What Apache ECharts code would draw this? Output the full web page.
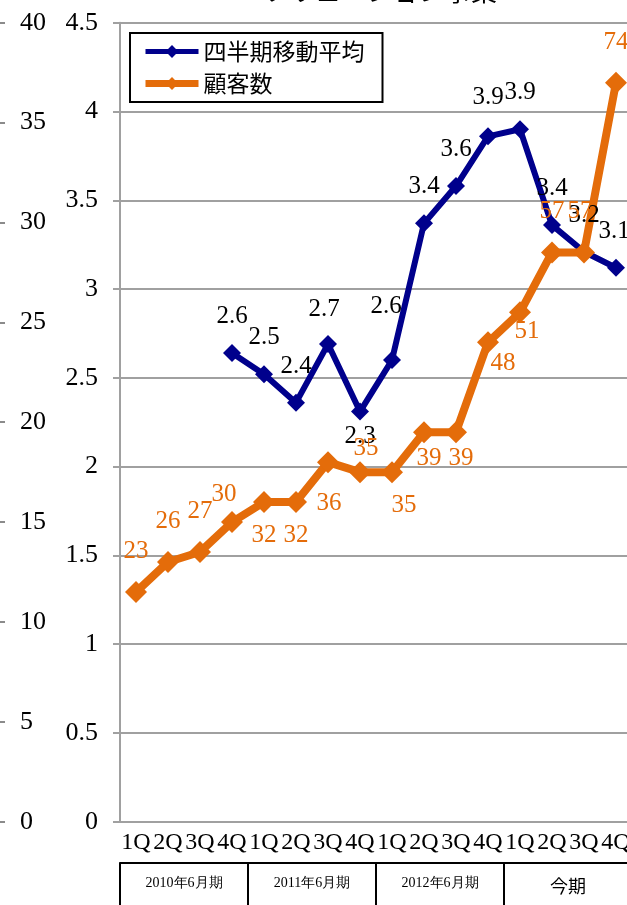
<!DOCTYPE html>
<html>
<head>
<meta charset="utf-8">
<script src="https://cdn.jsdelivr.net/npm/echarts@6/dist/echarts.min.js"></script>
<style>
  html, body { margin: 0; padding: 0; overflow: hidden; background: #fff; }
  #chart { width: 640px; height: 905px; }
</style>
</head>
<body>
<div id="chart"></div>
<script>
// Quarter categories and fiscal-period groups
const quarters = ['1Q','2Q','3Q','4Q','1Q','2Q','3Q','4Q','1Q','2Q','3Q','4Q','1Q','2Q','3Q','4Q'];
const periods = ['2010年6月期', '2011年6月期', '2012年6月期', '今期'];

// 四半期移動平均 (left value axis 0–4.5)
const movingAvg = [null, null, null, 2.64, 2.52, 2.36, 2.69, 2.31, 2.60, 3.37, 3.58, 3.86, 3.90, 3.36, 3.21, 3.12];
// 顧客数 (hidden axis 0–80)
const customers = [23, 26, 27, 30, 32, 32, 36, 35, 35, 39, 39, 48, 51, 57, 57, 74];

const seriesNames = ['四半期移動平均', '顧客数'];
const titleText = 'ソリューション事業';

// Label placement per point: [position, dx, dy]
const avgLabelPlace = [
  null, null, null,
  ['top', 0, 0], ['top', 0, 0], ['top', 0, 0], ['top', -4, 2], ['bottom', 0, 0],
  ['top', -6, -17], ['top', 0, 0], ['top', 0, 0], ['top', 0, -2],
  ['top', 0, 0], ['top', 0, 0], ['top', 0, 0], ['top', -2, 0]
];
const custLabelPlace = [
  ['top', 0, 0], ['top', 0, 0], ['top', 0, 0], ['top', -8, 13],
  ['bottom', 0, 0], ['bottom', 0, 0], ['bottom', 1, 8], ['top', 6, 17],
  ['bottom', 12, 0], ['bottom', 5, -7], ['bottom', 5, -7], ['bottom', 15, -12],
  ['bottom', 7, -14], ['top', 0, 0], ['top', -4, 0], ['top', 0, 0]
];

const BLUE = '#00008C';
const ORANGE = '#E46C0A';
const GRID_GRAY = '#A0A0A0';
const SERIF = '"Liberation Serif", "Times New Roman", serif';
const CJK = '"Noto Sans CJK JP", sans-serif';

function withLabels(values, places, baseLabel) {
  return values.map((v, i) => {
    const p = places[i];
    if (v === null || !p) return v;
    return {
      value: v,
      label: {
        position: p[0],
        offset: [p[1], p[2]],
        distance: p[0] === 'top' ? baseLabel.distanceTop : baseLabel.distanceBottom
      }
    };
  });
}

const avgLabel = { distanceTop: 15, distanceBottom: 3 };
const custLabel = { distanceTop: 17, distanceBottom: 10 };

const chart = echarts.init(document.getElementById('chart'), null, { renderer: 'canvas' });

chart.setOption({
  animation: false,
  backgroundColor: '#fff',
  graphic: [{
    type: 'text',
    x: 263,
    y: -22,
    style: { text: titleText, fontSize: 26, fontFamily: CJK, fill: '#000' }
  }],
  legend: {
    data: [
      { name: seriesNames[0], lineStyle: { width: 5 } },
      { name: seriesNames[1], lineStyle: { width: 7 } }
    ],
    orient: 'vertical',
    left: 130,
    top: 33,
    padding: [7, 18, 7, 12],
    itemGap: 9,
    itemWidth: 53,
    itemHeight: 16,
    borderColor: '#000',
    borderWidth: 2,
    backgroundColor: '#fff',
    textStyle: { fontSize: 23, fontFamily: CJK, color: '#000' }
  },
  grid: { left: 120, right: 8, top: 22.7, bottom: 83.3, containLabel: false },
  xAxis: [
    {
      type: 'category',
      data: quarters,
      position: 'bottom',
      boundaryGap: true,
      axisLine: { onZero: false, lineStyle: { color: GRID_GRAY, width: 2 } },
      axisTick: { length: 6, lineStyle: { color: GRID_GRAY, width: 2 } },
      axisLabel: { interval: 0, margin: 9, fontSize: 24, fontFamily: SERIF, color: '#000' }
    },
    {
      type: 'category',
      data: periods,
      position: 'bottom',
      offset: 41,
      boundaryGap: true,
      axisLine: { show: true, onZero: false, lineStyle: { color: '#000', width: 2 } },
      axisTick: { show: true, length: 45, lineStyle: { color: '#000', width: 2 } },
      axisLabel: {
        interval: 0, margin: 14, fontSize: 14, fontFamily: SERIF, color: '#000',
        formatter: v => v === '今期' ? '{big|' + v + '}' : v,
        rich: { big: { fontSize: 18, fontFamily: CJK, color: '#000' } }
      }
    }
  ],
  yAxis: [
    {
      type: 'value',
      min: 0, max: 4.5, interval: 0.5,
      position: 'left',
      axisLine: { show: true, lineStyle: { color: GRID_GRAY, width: 2 } },
      axisTick: { show: true, length: 7, lineStyle: { color: GRID_GRAY, width: 2 } },
      axisLabel: { margin: 22, fontSize: 26, fontFamily: SERIF, color: '#000' },
      splitLine: { show: true, lineStyle: { color: GRID_GRAY, width: 2 } }
    },
    {
      type: 'value',
      min: 0, max: 40, interval: 5,
      position: 'left',
      offset: 120,
      axisLine: { show: false },
      axisTick: { show: true, inside: true, length: 5, lineStyle: { color: '#666', width: 1.5 } },
      axisLabel: { inside: true, margin: 20, fontSize: 26, fontFamily: SERIF, color: '#000' },
      splitLine: { show: false }
    },
    {
      type: 'value',
      min: 0, max: 80,
      show: false,
      splitLine: { show: false }
    }
  ],
  series: [
    {
      name: seriesNames[0],
      type: 'line',
      yAxisIndex: 0,
      data: withLabels(movingAvg, avgLabelPlace, avgLabel),
      symbol: 'diamond',
      symbolSize: 18,
      connectNulls: false,
      color: BLUE,
      lineStyle: { color: BLUE, width: 6 },
      itemStyle: { color: BLUE },
      label: {
        show: true,
        fontSize: 25,
        fontFamily: SERIF,
        color: '#000',
        formatter: p => p.value == null ? '' : Number(p.value).toFixed(1)
      }
    },
    {
      name: seriesNames[1],
      type: 'line',
      yAxisIndex: 2,
      data: withLabels(customers, custLabelPlace, custLabel),
      symbol: 'diamond',
      symbolSize: 22,
      color: ORANGE,
      lineStyle: { color: ORANGE, width: 8 },
      itemStyle: { color: ORANGE },
      label: {
        show: true,
        fontSize: 25,
        fontFamily: SERIF,
        color: ORANGE,
        formatter: p => String(p.value)
      }
    }
  ]
});
</script>
</body>
</html>
